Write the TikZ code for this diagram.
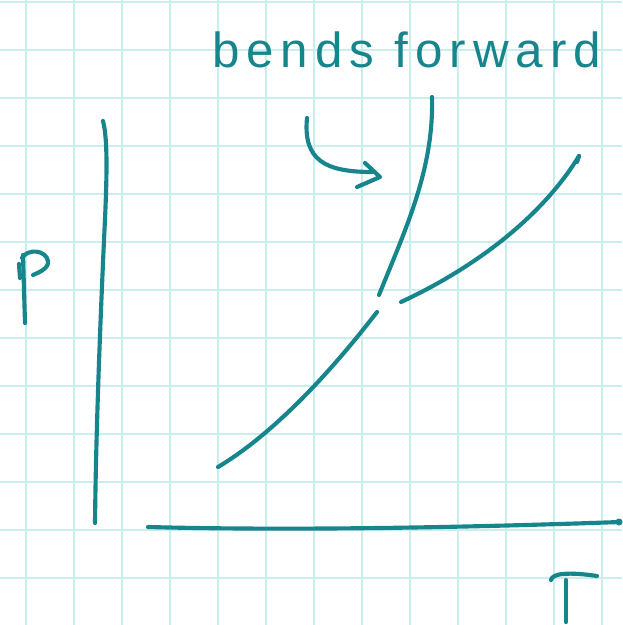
\documentclass[tikz,border=0pt]{standalone}
\usepackage{fontspec}
\setmainfont{Liberation Sans}
\usetikzlibrary{arrows.meta}
\definecolor{ink}{RGB}{22,134,140}
\definecolor{gridc}{RGB}{200,238,238}
\begin{document}
\begin{tikzpicture}[x=0.75pt,y=-0.75pt,
  pen/.style={draw=ink,line width=3.1pt,line cap=round,line join=round},
  lbl/.style={text=ink,inner sep=0pt,anchor=base west}]
\useasboundingbox (0,0) rectangle (622,625);
\fill[white] (0,0) rectangle (622,625);
% graph paper
\foreach \i in {0,...,12} \draw[gridc,line width=1.5pt] ({26+48*\i},0) -- ({26+48*\i},625);
\foreach \i in {0,...,13} \draw[gridc,line width=1.5pt] (0,{2+48*\i}) -- (622,{2+48*\i});
% axes
\draw[pen] (103,121) .. controls (108,140) and (107,180) .. (104,240) .. controls (100,330) and (96,430) .. (95,523);
\draw[pen] (148,527) .. controls (300,531) and (480,527) .. (620,522);
\fill[ink] (619,522) circle (3.5);
% curves
\draw[pen] (218,467) .. controls (280,430) and (340,360) .. (377,312);
\draw[pen] (379,295) .. controls (405,230) and (434,170) .. (432,97);
\draw[pen] (401,302) .. controls (470,270) and (540,220) .. (579,156);
\draw[pen] (579,156) -- (577,162);
% arrow
\draw[pen] (307,118) .. controls (303,160) and (325,172) .. (372,172);
\draw[pen] (365,163) -- (380,177) -- (357,187);
% P label
\draw[pen] (23,255) -- (25,323);
\draw[pen] (19,264) -- (20,278);
\draw[pen] (22,258) .. controls (28,248) and (46,250) .. (48,261) .. controls (49,268) and (40,272) .. (33,275);
% T label
\draw[pen] (551,580) .. controls (552,573) and (570,572) .. (597,576);
\draw[pen] (566,580) -- (566,622);
% text
\node[lbl,font={\fontsize{37}{40}\selectfont\addfontfeatures{LetterSpace=14}}] (title) at (212,67) {bends forward};
\end{tikzpicture}
\end{document}
